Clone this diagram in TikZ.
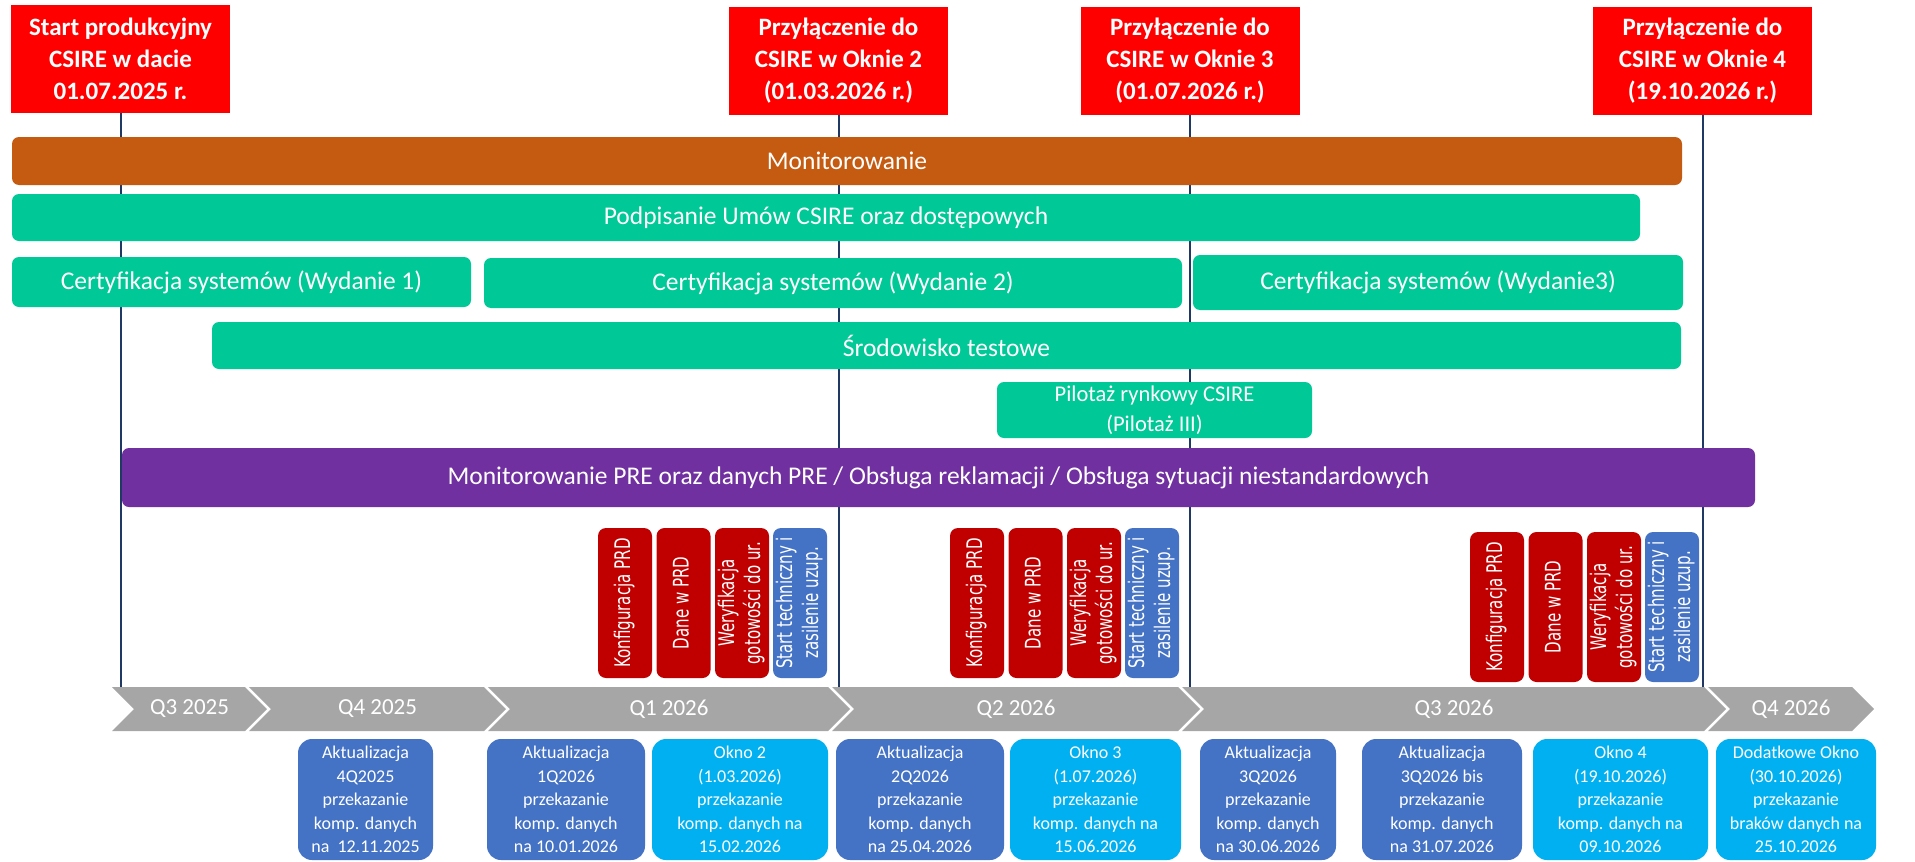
\documentclass[tikz,border=0pt]{standalone}
\usepackage{fontspec}
\setmainfont{Carlito}
\newfontfamily\vfont{DejaVu Sans}
\usepackage{tikz}
\usetikzlibrary{positioning}

\definecolor{csred}{HTML}{FF0000}
\definecolor{prdred}{HTML}{C00000}
\definecolor{prdblue}{HTML}{4472C4}
\definecolor{okno}{HTML}{00B0F0}
\definecolor{monit}{HTML}{C55A11}
\definecolor{bar}{HTML}{00C896}
\definecolor{pre}{HTML}{7030A0}
\definecolor{kw}{HTML}{A6A6A6}
\definecolor{axisline}{HTML}{1F3864}

\tikzset{
  milestone/.style={fill=csred, text=white, inner sep=0pt, minimum width=219pt, minimum height=108pt, align=center, font=\fontsize{25}{32}\selectfont\bfseries},
  phase/.style={fill=#1, text=white, rounded corners=7pt, inner sep=0pt, align=center, font=\fontsize{25.5}{29}\selectfont},
  prd/.style={fill=#1, text=white, rounded corners=8pt, inner sep=0pt, minimum width=150pt, minimum height=54pt, rotate=90},
  upload/.style={fill=#1, text=white, rounded corners=14pt, inner sep=0pt, align=center, font=\fontsize{18}{23.5}\selectfont},
  quarter/.style={text=white, font=\fontsize{23}{26}\selectfont},
}
\newcommand{\vlabel}[1]{\scalebox{.7}[1]{\vfont\fontsize{21.5}{26}\selectfont\begin{tabular}{@{}c@{}}#1\end{tabular}}}

\begin{document}
\begin{tikzpicture}[x=1pt,y=-1pt]
\useasboundingbox (0,0) rectangle (1915,862);

\node[milestone] (start) at (120.5,59) {Start produkcyjny\\CSIRE w dacie\\01.07.2025 r.};
\node[milestone] (okno2) at (838.5,61) {Przyłączenie do\\CSIRE w Oknie 2\\(01.03.2026 r.)};
\node[milestone] (okno3) at (1190,61) {Przyłączenie do\\CSIRE w Oknie 3\\(01.07.2026 r.)};
\node[milestone] (okno4) at (1702.5,61) {Przyłączenie do\\CSIRE w Oknie 4\\(19.10.2026 r.)};

\coordinate (axis) at (0,687);
\foreach \m in {start,okno2,okno3,okno4} {
    \draw[axisline, line width=2pt] (\m.south) -- (\m.south |- axis);
}

\node[phase=monit, minimum width=1670pt, minimum height=48pt] (monit) at (847,161) {Monitorowanie};
\node[phase=bar, minimum width=1628pt, minimum height=47pt] (umowy) at (826,217.5) {Podpisanie Umów CSIRE oraz dostępowych};
\node[phase=bar, minimum width=459pt, minimum height=50pt] (cert1) at (241.5,282) {Certyfikacja systemów (Wydanie 1)};
\node[phase=bar, minimum width=698pt, minimum height=50pt] (cert2) at (833,283) {Certyfikacja systemów (Wydanie 2)};
\node[phase=bar, minimum width=490pt, minimum height=55pt] (cert3) at (1438,282.5) {Certyfikacja systemów (Wydanie3)};
\node[phase=bar, minimum width=1469pt, minimum height=47pt] (srod) at (946.5,345.5) {Środowisko testowe};
\node[phase=bar, minimum width=315pt, minimum height=56pt, font=\fontsize{22.5}{30}\selectfont] (pilot) at (1154.5,410) {Pilotaż rynkowy CSIRE\\(Pilotaż III)};
\node[phase=pre, minimum width=1633pt, minimum height=59pt] (pre) at (938.5,477.5) {Monitorowanie PRE oraz danych PRE / Obsługa reklamacji / Obsługa sytuacji niestandardowych};

\foreach \g/\x/\y in {a/598/603, b/950/603, c/1470/607} {
    \node[prd=prdred] (kon\g) at (\x+27,\y) {\vlabel{Konfiguracja PRD}};
    \node[prd=prdred] (dane\g) at (\x+85.5,\y) {\vlabel{Dane w PRD}};
    \node[prd=prdred] (wer\g) at (\x+144,\y) {\vlabel{Weryfikacja\\gotowości do ur.}};
    \node[prd=prdblue] (st\g) at (\x+202,\y) {\vlabel{Start techniczny i\\zasilenie uzup.}};
}

\foreach \a/\b/\t/\n in {112/245/Q3 2025/qa, 249/484/Q4 2025/qb, 488/828/Q1 2026/qc, 832/1178/Q2 2026/qd, 1182/1704/Q3 2026/qe, 1708/1852/Q4 2026/qf} {
    \fill[kw] (\a,687) -- (\b,687) -- (\b+22,709) -- (\b,731) -- (\a,731) -- (\a+22,709) -- cycle;
    \node[quarter] (\n) at ({(\a+\b)/2+11},709) {\t};
}

\foreach \n/\c/\xa/\xb/\t in {
    upa/prdblue/298/433/{Aktualizacja\\4Q2025\\przekazanie\\komp. danych\\na\ \ 12.11.2025},
    upb/prdblue/487/645/{Aktualizacja\\1Q2026\\przekazanie\\komp. danych\\na 10.01.2026},
    upc/okno/652/828/{Okno 2\\(1.03.2026)\\przekazanie\\komp. danych na\\15.02.2026},
    upd/prdblue/836/1004/{Aktualizacja\\2Q2026\\przekazanie\\komp. danych\\na 25.04.2026},
    upe/okno/1010/1181/{Okno 3\\(1.07.2026)\\przekazanie\\komp. danych na\\15.06.2026},
    upf/prdblue/1200/1336/{Aktualizacja\\3Q2026\\przekazanie\\komp. danych\\na 30.06.2026},
    upg/prdblue/1362/1522/{Aktualizacja\\3Q2026 bis\\przekazanie\\komp. danych\\na 31.07.2026},
    uph/okno/1533/1708/{Okno 4\\(19.10.2026)\\przekazanie\\komp. danych na\\09.10.2026},
    upi/okno/1716/1876/{Dodatkowe Okno\\(30.10.2026)\\przekazanie\\braków danych na\\25.10.2026}} {
    \node[upload=\c, minimum width={(\xb-\xa)*1pt}, minimum height=121pt] (\n) at ({(\xa+\xb)/2},799.5) {\t};
}
\end{tikzpicture}
\end{document}
